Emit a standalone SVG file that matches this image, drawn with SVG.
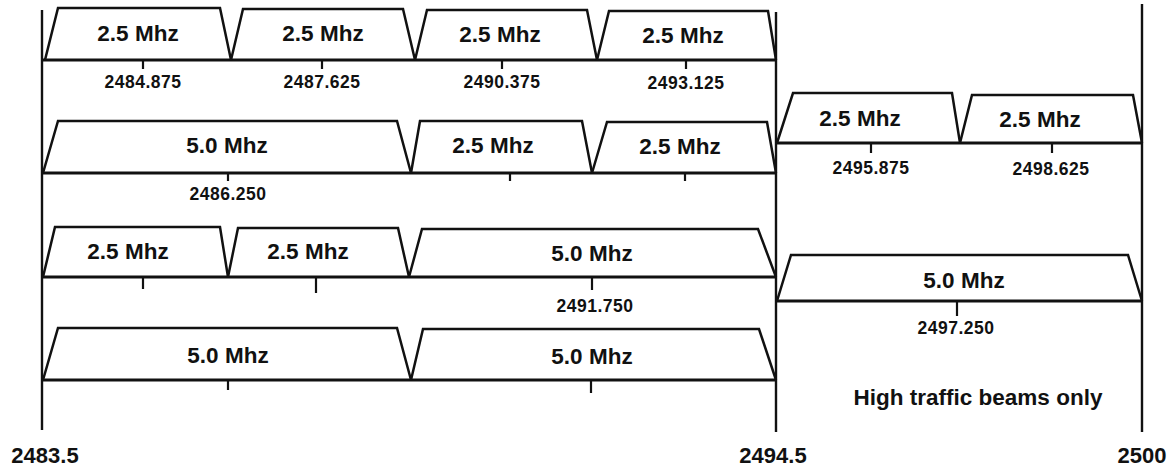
<svg xmlns="http://www.w3.org/2000/svg" width="1172" height="470" viewBox="0 0 1172 470">
<style>
.tr{fill:none;stroke:#111;stroke-width:2.5;stroke-linejoin:miter}
.base{stroke:#111;stroke-width:3.2}
.vl{stroke:#111;stroke-width:2.4}
.tk{stroke:#111;stroke-width:2.2}
.bw{font-family:"Liberation Sans",Arial,sans-serif;font-weight:bold;font-size:22.5px;fill:#111;text-anchor:middle}
.fq{font-family:"Liberation Sans",Arial,sans-serif;font-weight:bold;font-size:17.5px;fill:#111;text-anchor:middle;letter-spacing:0.5px}
.ax{font-family:"Liberation Sans",Arial,sans-serif;font-weight:bold;font-size:22px;fill:#111;text-anchor:middle}
</style>
<rect width="1172" height="470" fill="#fff"/>
<g id="axes">
<line class="vl" x1="42" y1="10" x2="42" y2="430"/>
<line class="vl" x1="776" y1="12" x2="776" y2="432"/>
<line class="vl" x1="1142" y1="4" x2="1142" y2="432"/>
<line class="base" x1="42" y1="60" x2="776" y2="60"/>
<line class="base" x1="42" y1="173" x2="776" y2="173"/>
<line class="base" x1="42" y1="277" x2="776" y2="277"/>
<line class="base" x1="42" y1="380" x2="776" y2="380"/>
<line class="base" x1="776" y1="143" x2="1142" y2="143"/>
<line class="base" x1="776" y1="301" x2="1142" y2="301"/>
</g>
<g id="connectors">
<line class="tk" x1="143" y1="60" x2="143" y2="69"/>
<line class="tk" x1="322" y1="60" x2="322" y2="69"/>
<line class="tk" x1="502" y1="60" x2="502" y2="69"/>
<line class="tk" x1="686" y1="60" x2="686" y2="69"/>
<line class="tk" x1="228" y1="173" x2="228" y2="181"/>
<line class="tk" x1="510" y1="173" x2="510" y2="181"/>
<line class="tk" x1="685" y1="173" x2="685" y2="181"/>
<line class="tk" x1="143" y1="277" x2="143" y2="289"/>
<line class="tk" x1="316" y1="277" x2="316" y2="293"/>
<line class="tk" x1="592" y1="277" x2="592" y2="290"/>
<line class="tk" x1="228" y1="380" x2="228" y2="390"/>
<line class="tk" x1="591" y1="380" x2="591" y2="393"/>
<line class="tk" x1="871" y1="143" x2="871" y2="153"/>
<line class="tk" x1="1052" y1="143" x2="1052" y2="153"/>
<line class="tk" x1="957" y1="301" x2="957" y2="316"/>
</g>
<g id="r1c1"><polyline class="tr" points="45,60 58,8 220,8 231,60"/><text class="bw" x="138" y="41">2.5 Mhz</text><text class="fq" x="143" y="88">2484.875</text></g>
<g id="r1c2"><polyline class="tr" points="231,60 243,9 403,9 415,60"/><text class="bw" x="323" y="41">2.5 Mhz</text><text class="fq" x="322" y="88">2487.625</text></g>
<g id="r1c3"><polyline class="tr" points="415,60 427,10 587,10 597,60"/><text class="bw" x="500" y="42">2.5 Mhz</text><text class="fq" x="502" y="88">2490.375</text></g>
<g id="r1c4"><polyline class="tr" points="597,60 609,11 768,11 776,60"/><text class="bw" x="683" y="43">2.5 Mhz</text><text class="fq" x="686" y="89">2493.125</text></g>
<g id="r2c1"><polyline class="tr" points="43,173 58,121 397,121 411,173"/><text class="bw" x="227" y="153">5.0 Mhz</text><text class="fq" x="228" y="200">2486.250</text></g>
<g id="r2c2"><polyline class="tr" points="411,173 420,121 582,121 592,173"/><text class="bw" x="493" y="153">2.5 Mhz</text></g>
<g id="r2c3"><polyline class="tr" points="592,173 607,122 767,122 776,173"/><text class="bw" x="680" y="154">2.5 Mhz</text></g>
<g id="r3c1"><polyline class="tr" points="43,277 55,227 220,227 228,277"/><text class="bw" x="128" y="259">2.5 Mhz</text></g>
<g id="r3c2"><polyline class="tr" points="228,277 238,228 398,228 409,277"/><text class="bw" x="308" y="259">2.5 Mhz</text></g>
<g id="r3c3"><polyline class="tr" points="409,277 422,229 758,229 776,277"/><text class="bw" x="592" y="261">5.0 Mhz</text><text class="fq" x="595" y="312">2491.750</text></g>
<g id="r4c1"><polyline class="tr" points="43,380 58,328 397,328 411,380"/><text class="bw" x="228" y="363">5.0 Mhz</text></g>
<g id="r4c2"><polyline class="tr" points="411,380 423,329 759,329 776,380"/><text class="bw" x="592" y="364">5.0 Mhz</text></g>
<g id="r5c1"><polyline class="tr" points="777,143 793,93 952,93 960,143"/><text class="bw" x="860" y="126">2.5 Mhz</text><text class="fq" x="871" y="174">2495.875</text></g>
<g id="r5c2"><polyline class="tr" points="960,143 972,95 1133,95 1142,143"/><text class="bw" x="1040" y="127">2.5 Mhz</text><text class="fq" x="1051" y="175">2498.625</text></g>
<g id="r6c1"><polyline class="tr" points="777,301 791,255 1128,255 1142,301"/><text class="bw" x="964" y="288">5.0 Mhz</text><text class="fq" x="956" y="334">2497.250</text></g>
<text class="bw" x="978" y="405">High traffic beams only</text>
<text class="ax" x="45" y="463">2483.5</text>
<text class="ax" x="773" y="463">2494.5</text>
<text class="ax" x="1142" y="463">2500</text>
</svg>
